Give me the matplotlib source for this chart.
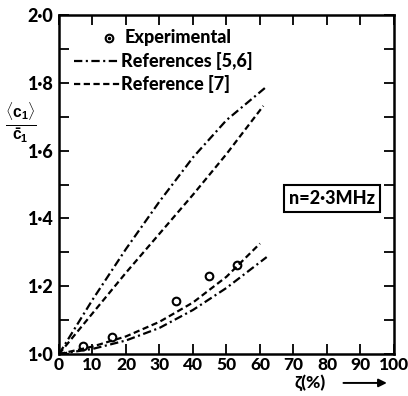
import matplotlib
matplotlib.use("Agg")
import matplotlib.pyplot as plt
import matplotlib.patches as mpatches
import numpy as np

plt.rcParams['font.family'] = ['Lato', 'Liberation Sans', 'DejaVu Sans']
plt.rcParams['font.weight'] = 'bold'
plt.rcParams['lines.scale_dashes'] = False
plt.rcParams['mathtext.fontset'] = 'custom'
plt.rcParams['mathtext.rm'] = 'Liberation Sans:bold'
plt.rcParams['mathtext.it'] = 'Liberation Sans:bold'
plt.rcParams['mathtext.bf'] = 'Liberation Sans:bold'

# Experimental points
exp_x = [7.3, 15.7, 34.9, 44.8, 53.0]
exp_y = [1.024, 1.051, 1.157, 1.229, 1.262]

# References [5,6] (dash-dot) upper and lower branches
ref56_up_x = [0, 10, 20, 30, 40, 50, 61.5]
ref56_up_y = [1.0, 1.16, 1.31, 1.45, 1.58, 1.69, 1.785]
ref56_lo_x = [0, 10, 20, 30, 40, 50, 62.0]
ref56_lo_y = [1.0, 1.015, 1.04, 1.077, 1.13, 1.195, 1.286]

# Reference [7] (dashed) upper and lower branches
ref7_up_x = [0, 10, 20, 30, 40, 50, 61.0]
ref7_up_y = [1.0, 1.12, 1.24, 1.355, 1.47, 1.59, 1.732]
ref7_lo_x = [0, 10, 20, 30, 40, 50, 60.0]
ref7_lo_y = [1.0, 1.022, 1.052, 1.095, 1.152, 1.228, 1.326]

xticks = [0, 10, 20, 30, 40, 50, 60, 70, 80, 90, 100]
yticks = [1.0, 1.2, 1.4, 1.6, 1.8, 2.0]
ytick_labels = ['1·0', '1·2', '1·4', '1·6', '1·8', '2·0']

DASHDOT = (6, 2.5, 1.5, 2.5)
DASH = (4.5, 2.5)
HEAVY = 'black'

fig = plt.figure(figsize=(4.08, 3.96), dpi=100)
ax = fig.add_axes([0.1446, 0.106, 0.821, 0.856])

lw = 1.6
ax.plot(ref56_up_x, ref56_up_y, color='black', lw=lw, dashes=DASHDOT)
ax.plot(ref56_lo_x, ref56_lo_y, color='black', lw=lw, dashes=DASHDOT)
ax.plot(ref7_up_x, ref7_up_y, color='black', lw=lw, dashes=DASH)
ax.plot(ref7_lo_x, ref7_lo_y, color='black', lw=lw, dashes=DASH)
ax.plot(exp_x, exp_y, 'o', mfc='none', mec='black', ms=5.5, mew=1.5)

ax.set_xlim(0, 100)
ax.set_ylim(1.0, 2.0)
ax.set_xticks(xticks)
ax.set_xticklabels([str(t) for t in xticks], fontsize=12.5, fontweight=HEAVY)
ax.set_yticks(yticks)
ax.set_yticklabels(ytick_labels, fontsize=13, fontweight=HEAVY)
ax.set_yticks(np.arange(1.1, 2.0, 0.2), minor=True)
ax.tick_params(axis='both', which='both', direction='in', top=True, right=True,
               length=7.5, width=1.3, pad=2)
ax.tick_params(axis='y', which='major', pad=4)
for s in ax.spines.values():
    s.set_linewidth(1.8)

# Legend (manual, inside axes)
ax.plot([15.0], [1.933], 'o', mfc='none', mec='black', ms=5.5, mew=1.5)
ax.plot([15.0], [1.933], 'o', color='black', ms=1.5)
ax.text(19.5, 1.933, 'Experimental', fontsize=13, fontweight=HEAVY, va='center')
ax.plot([4.5, 18.3], [1.863, 1.863], color='black', lw=lw, dashes=DASHDOT)
ax.text(18.5, 1.863, 'References [5,6]', fontsize=13, fontweight=HEAVY, va='center')
ax.plot([4.5, 18.3], [1.797, 1.797], color='black', lw=lw, dashes=DASH)
ax.text(18.5, 1.797, 'Reference [7]', fontsize=13, fontweight=HEAVY, va='center')

ax.text(81.5, 1.459, 'n=2·3MHz', fontsize=13, fontweight=HEAVY, ha='center', va='center',
        bbox=dict(boxstyle='square,pad=0.3', fc='white', ec='black', lw=1.5))

fig.text(0.052, 0.69, r'$\frac{\langle c_1\rangle}{\bar{c}_1}$', fontsize=16,
         ha='center', va='center')
fig.text(0.76, 0.033, 'ζ(%)', fontsize=12.5, fontweight=HEAVY, ha='center', va='center')
fig.add_artist(mpatches.FancyArrowPatch((0.835, 0.033), (0.955, 0.033),
               transform=fig.transFigure, arrowstyle='-|>', mutation_scale=12,
               color='black', lw=1.4))

fig.savefig('out.png', dpi=100)
